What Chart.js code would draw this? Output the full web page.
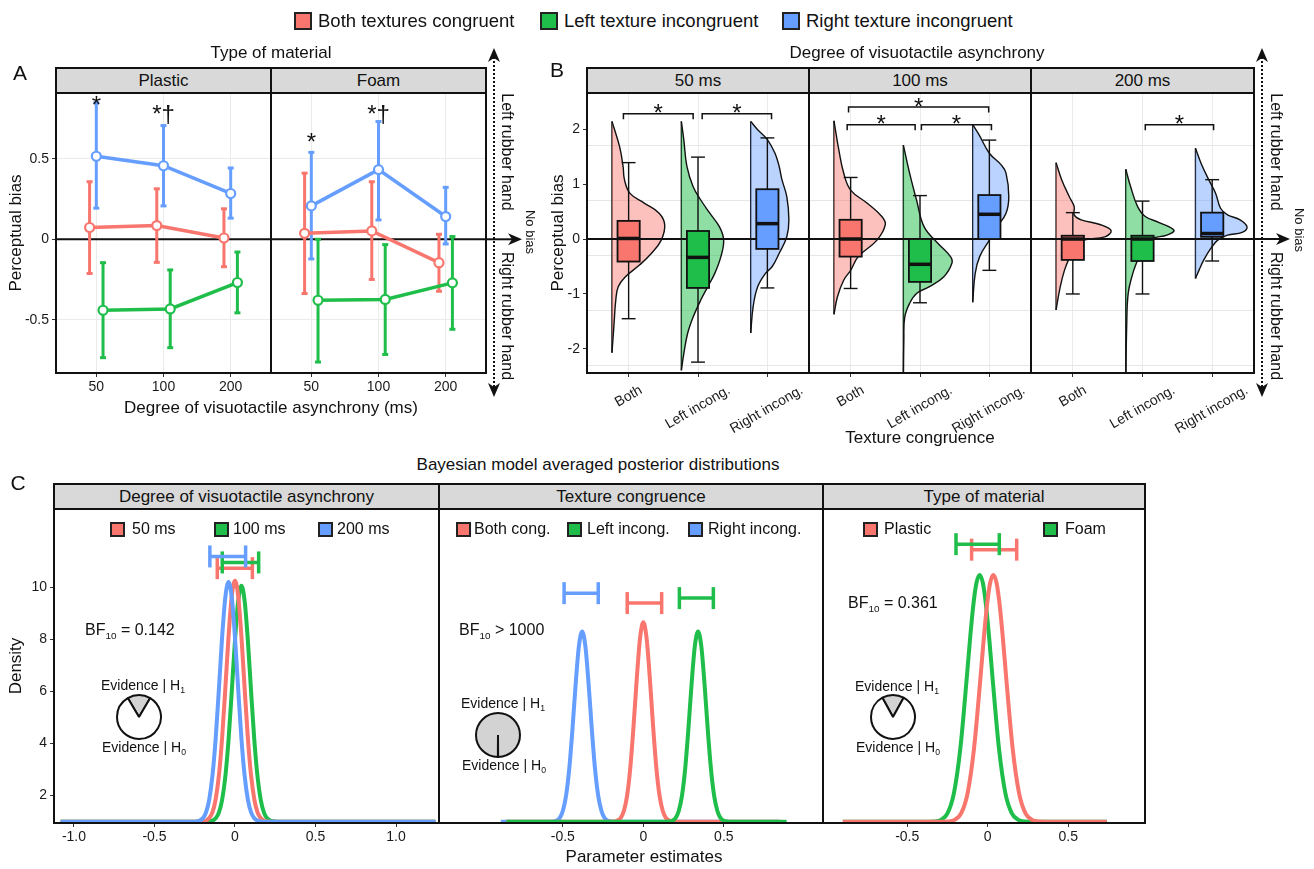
<!DOCTYPE html>
<html>
<head>
<meta charset="utf-8">
<title>Perceptual bias</title>
<script src="https://cdn.jsdelivr.net/npm/chart.js@4.4.1/dist/chart.umd.min.js"></script>
<style>
  html, body { margin: 0; background: #fff; }
  #fig { position: relative; width: 1314px; height: 869px; overflow: hidden;
         font-family: "Liberation Sans", Arial, Helvetica, sans-serif; color: #111; }
  #fig canvas { position: absolute; }
  .txt { position: absolute; white-space: nowrap; line-height: 1.15; }
  .txt sub { font-size: 0.62em; vertical-align: -0.4em; line-height: 0; }
  .strip { position: absolute; box-sizing: border-box; background: #d9d9d9; border: 2px solid #111;
           font-size: 17px; display: flex; align-items: center; justify-content: center; }
  .key { position: absolute; box-sizing: border-box; border: 2px solid #222; }
</style>
</head>
<body>
<div id="fig"></div>
<script>
// ---------- categories and tick labels ----------
const asyncLabels = ['50', '100', '200'];
const congruenceLabels = ['Both', 'Left incong.', 'Right incong.'];
const bYTicks = [-2.3, -2, -1.3, -1, -0.3, 0, 0.7, 1, 1.7, 2];

// ---------- panel A: mean perceptual bias and 95% CI ----------
const plasticBothMean = [0.073, 0.085, 0.008];
const plasticBothLow = [-0.212, -0.143, -0.170];
const plasticBothHigh = [0.357, 0.313, 0.189];
const plasticLeftMean = [-0.440, -0.432, -0.268];
const plasticLeftLow = [-0.734, -0.672, -0.456];
const plasticLeftHigh = [-0.145, -0.190, -0.079];
const plasticRightMean = [0.515, 0.456, 0.284];
const plasticRightLow = [0.193, 0.207, 0.131];
const plasticRightHigh = [0.846, 0.705, 0.442];
const foamBothMean = [0.037, 0.052, -0.145];
const foamBothLow = [-0.336, -0.249, -0.322];
const foamBothHigh = [0.410, 0.357, 0.031];
const foamLeftMean = [-0.378, -0.373, -0.270];
const foamLeftLow = [-0.761, -0.714, -0.558];
const foamLeftHigh = [0.000, -0.033, 0.017];
const foamRightMean = [0.207, 0.432, 0.141];
const foamRightLow = [-0.122, 0.120, -0.029];
const foamRightHigh = [0.539, 0.730, 0.322];
// significance marks: [asynchrony position, bias, label]
const plasticMarks = [[1, 0.865, '*'], [2, 0.81, '*†']];
const foamMarks = [[1, 0.638, '*'], [2, 0.81, '*†']];

// ---------- panel B: box plot stats (Both, Left, Right) ----------
const hi50 = [1.39, 1.49, 1.84], q3_50 = [0.33, 0.146, 0.906], med50 = [0.01, -0.334, 0.28], q1_50 = [-0.41, -0.89, -0.18], lo50 = [-1.45, -2.24, -0.89];
const hi100 = [1.12, 0.79, 1.80], q3_100 = [0.35, 0.0, 0.80], med100 = [0.0, -0.46, 0.45], q1_100 = [-0.32, -0.78, 0.0], lo100 = [-0.90, -1.16, -0.57];
const hi200 = [0.48, 0.69, 1.08], q3_200 = [0.06, 0.06, 0.48], med200 = [0.0, 0.0, 0.10], q1_200 = [-0.38, -0.40, 0.04], lo200 = [-1.0, -1.0, -0.40];
// significance brackets: [from, to, height]
const brackets50 = [[0.925, 1.93, 2.28], [2.06, 3.06, 2.28]];
const brackets100 = [[0.97, 2.99, 2.40], [0.95, 1.93, 2.08], [2.02, 3.03, 2.08]];
const brackets200 = [[2.04, 3.02, 2.08]];
// half-violin outlines: bias levels and density widths
const v50BothY = [2.14, 1.68, 1.32, 1.08, 0.83, 0.65, 0.47, 0.26, -0.02, -0.26, -0.47, -0.69, -0.87, -1.11, -1.54, -2.07];
const v50BothW = [0, 0.11, 0.16, 0.18, 0.26, 0.47, 0.68, 0.76, 0.71, 0.57, 0.40, 0.19, 0.09, 0.055, 0.03, 0];
const v50LeftY = [2.14, 1.81, 1.32, 0.95, 0.71, 0.47, 0.22, -0.02, -0.32, -0.63, -0.87, -1.11, -1.42, -1.72, -2.09, -2.39];
const v50LeftW = [0, 0.035, 0.08, 0.17, 0.28, 0.41, 0.55, 0.61, 0.57, 0.48, 0.38, 0.28, 0.17, 0.09, 0.035, 0];
const v50RightY = [2.14, 1.99, 1.81, 1.56, 1.32, 1.08, 0.77, 0.35, 0.04, -0.26, -0.50, -0.63, -0.87, -1.23, -1.71];
const v50RightW = [0, 0.10, 0.24, 0.35, 0.41, 0.45, 0.52, 0.55, 0.52, 0.41, 0.31, 0.21, 0.10, 0.035, 0];
const v100BothY = [2.15, 1.62, 1.20, 0.89, 0.65, 0.41, 0.26, -0.02, -0.32, -0.57, -0.75, -1.05, -1.37];
const v100BothW = [0, 0.07, 0.14, 0.24, 0.48, 0.69, 0.74, 0.62, 0.35, 0.24, 0.14, 0.05, 0];
const v100LeftY = [1.71, 1.20, 0.71, 0.22, -0.08, -0.32, -0.44, -0.69, -0.87, -0.99, -1.17, -1.42, -1.84, -2.60];
const v100LeftW = [0, 0.09, 0.19, 0.30, 0.50, 0.68, 0.70, 0.58, 0.37, 0.19, 0.09, 0.02, 0.007, 0];
const v100RightY = [2.08, 1.90, 1.56, 1.35, 1.20, 0.77, 0.47, 0.22, -0.02, -0.32, -0.63, -1.15];
const v100RightW = [0, 0.09, 0.24, 0.41, 0.48, 0.52, 0.48, 0.35, 0.24, 0.10, 0.035, 0];
const v200BothY = [1.39, 1.08, 0.77, 0.59, 0.44, 0.35, 0.26, 0.15, 0.04, -0.01, -0.08, -0.26, -0.57, -0.93, -1.29];
const v200BothW = [0, 0.08, 0.19, 0.26, 0.26, 0.36, 0.64, 0.79, 0.70, 0.43, 0.29, 0.22, 0.12, 0.05, 0];
const v200LeftY = [1.27, 0.95, 0.59, 0.41, 0.30, 0.16, 0.07, 0.01, -0.14, -0.38, -0.63, -0.99, -1.54, -2.60];
const v200LeftW = [0, 0.07, 0.17, 0.28, 0.48, 0.69, 0.59, 0.38, 0.24, 0.17, 0.10, 0.035, 0.014, 0];
const v200RightY = [1.65, 1.38, 1.08, 0.83, 0.56, 0.44, 0.35, 0.22, 0.12, 0.07, -0.02, -0.17, -0.38, -0.57, -0.72];
const v200RightW = [0, 0.08, 0.19, 0.29, 0.36, 0.46, 0.64, 0.74, 0.67, 0.46, 0.32, 0.22, 0.12, 0.05, 0];

// ---------- panel C: posterior densities ----------
const asyncX = [-1.083, -0.3, -0.25, -0.2, -0.18, -0.16, -0.14, -0.12, -0.1, -0.08, -0.06, -0.04, -0.02, 0, 0.02, 0.04, 0.06, 0.08, 0.1, 0.12, 0.14, 0.16, 0.18, 0.2, 0.25, 0.3, 1.245];
const async50Density = [1, 1, 1, 1.01, 1.04, 1.14, 1.36, 1.86, 2.77, 4.21, 6.11, 8.1, 9.66, 10.25, 9.66, 8.1, 6.11, 4.21, 2.77, 1.86, 1.36, 1.14, 1.04, 1.01, 1, 1, 1];
const async100Density = [1, 1, 1, 1, 1, 1.01, 1.04, 1.13, 1.35, 1.84, 2.73, 4.14, 6.0, 7.95, 9.47, 10.05, 9.47, 7.95, 6.0, 4.14, 2.73, 1.84, 1.35, 1.13, 1.01, 1, 1];
const async200Density = [1, 1, 1, 1.13, 1.36, 1.85, 2.76, 4.19, 6.08, 8.07, 9.61, 10.2, 9.61, 8.07, 6.08, 4.19, 2.76, 1.85, 1.36, 1.13, 1.04, 1.01, 1, 1, 1, 1, 1];
const asyncCiLow = [-0.110, -0.079, -0.156], asyncCiHigh = [0.108, 0.147, 0.066], asyncCiY = [10.73, 10.95, 11.18];

const congRightX = [-0.885, -0.6, -0.56, -0.54, -0.52, -0.5, -0.48, -0.46, -0.44, -0.42, -0.40, -0.38, -0.36, -0.34, -0.32, -0.30, -0.28, -0.26, -0.24, -0.22, -0.2, -0.16, 0.84];
const congRightDensity = [1, 1, 1.01, 1.04, 1.14, 1.41, 1.99, 3.03, 4.56, 6.30, 7.74, 8.3, 7.74, 6.30, 4.56, 3.03, 1.99, 1.41, 1.14, 1.04, 1.01, 1, 1];
const congBothX = [-0.85, -0.3, -0.18, -0.16, -0.14, -0.12, -0.1, -0.08, -0.06, -0.04, -0.02, 0, 0.02, 0.04, 0.06, 0.08, 0.1, 0.12, 0.14, 0.16, 0.18, 0.3, 0.85];
const congBothDensity = [1, 1, 1.01, 1.05, 1.15, 1.43, 2.03, 3.13, 4.73, 6.55, 8.06, 8.65, 8.06, 6.55, 4.73, 3.13, 2.03, 1.43, 1.15, 1.05, 1.01, 1, 1];
const congLeftX = [-0.85, 0.1, 0.16, 0.18, 0.2, 0.22, 0.24, 0.26, 0.28, 0.30, 0.32, 0.34, 0.36, 0.38, 0.40, 0.42, 0.44, 0.46, 0.48, 0.50, 0.52, 0.56, 0.89];
const congLeftDensity = [1, 1, 1.01, 1.04, 1.14, 1.41, 1.99, 3.03, 4.56, 6.30, 7.74, 8.3, 7.74, 6.30, 4.56, 3.03, 1.99, 1.41, 1.14, 1.04, 1.01, 1, 1];
const congCiLow = [-0.100, 0.224, -0.492], congCiHigh = [0.114, 0.435, -0.280], congCiY = [9.39, 9.58, 9.77];

const foamX = [-0.9, -0.4, -0.33, -0.29, -0.25, -0.21, -0.17, -0.13, -0.11, -0.09, -0.07, -0.05, -0.03, -0.01, 0.01, 0.03, 0.07, 0.11, 0.15, 0.19, 0.23, 0.3, 0.74];
const foamDensity = [1, 1, 1.01, 1.07, 1.32, 2.09, 3.81, 6.52, 7.99, 9.28, 10.16, 10.47, 10.16, 9.28, 7.99, 6.52, 3.81, 2.09, 1.32, 1.07, 1.01, 1, 1];
const plasticX = [-0.9, -0.3, -0.245, -0.205, -0.165, -0.125, -0.085, -0.045, -0.025, -0.005, 0.015, 0.035, 0.055, 0.075, 0.095, 0.115, 0.155, 0.195, 0.235, 0.275, 0.315, 0.4, 0.74];
const plasticDensity = [1, 1, 1.01, 1.07, 1.32, 2.09, 3.81, 6.52, 7.99, 9.28, 10.16, 10.47, 10.16, 9.28, 7.99, 6.52, 3.81, 2.09, 1.32, 1.07, 1.01, 1, 1];
const matCiLow = [-0.100, -0.197], matCiHigh = [0.180, 0.072], matCiY = [11.44, 11.65];

const bfLabels = ['= 0.142', '> 1000', '= 0.361'];
const evidenceShare = [0.17, 0.999, 0.16];

// ---------- styles ----------
const RED = '#F8766D', GREEN = '#1FBE4A', BLUE = '#659EFF';
const FILLS = ['rgba(248,118,109,0.45)', 'rgba(31,190,74,0.5)', 'rgba(101,158,255,0.45)'];
const COLORS = [RED, GREEN, BLUE];
const VIOLIN_SHIFT = -0.24, BOX_HALF = 0.16, CAP_HALF = 0.1, BRACKET_TICK = 0.1;
const B_LABEL_SHIFT = [0.18, 0.45, 0.50];   // centres rotated labels on their ticks
const SIDE = 12;
const FONT = '"Liberation Sans", Arial, Helvetica, sans-serif';
Chart.defaults.font.family = FONT;
Chart.defaults.color = '#1a1a1a';

const fig = document.getElementById('fig');

function addCanvas(x, y, w, h) {
  const c = document.createElement('canvas');
  c.width = w; c.height = h;
  c.style.left = x + 'px'; c.style.top = y + 'px';
  c.style.width = w + 'px'; c.style.height = h + 'px';
  fig.appendChild(c);
  return c;
}

function addText(html, x, y, size, align, rot) {
  const d = document.createElement('div');
  d.className = 'txt';
  d.innerHTML = html;
  d.style.left = x + 'px';
  d.style.top = y + 'px';
  d.style.fontSize = size + 'px';
  const tx = align === 'left' ? '0%' : align === 'right' ? '-100%' : '-50%';
  d.style.transform = 'translate(' + tx + ',-50%)' + (rot ? ' rotate(' + rot + 'deg)' : '');
  fig.appendChild(d);
}

function addStrip(label, l, r, t, b) {
  const d = document.createElement('div');
  d.className = 'strip';
  d.textContent = label;
  d.style.left = (l - 1) + 'px'; d.style.top = (t - 1) + 'px';
  d.style.width = (r - l + 2) + 'px'; d.style.height = (b - t + 2) + 'px';
  fig.appendChild(d);
}

function addKey(x, y, size, color) {
  const d = document.createElement('div');
  d.className = 'key';
  d.style.left = x + 'px'; d.style.top = y + 'px';
  d.style.width = size + 'px'; d.style.height = size + 'px';
  d.style.background = color;
  fig.appendChild(d);
}

function line(ctx, x1, y1, x2, y2) {
  ctx.beginPath(); ctx.moveTo(x1, y1); ctx.lineTo(x2, y2); ctx.stroke();
}

function arrowHead(ctx, x, y, dir) {
  // notched arrow head, tip at (x, y)
  const pts = {up: [[0, 0], [-6, 14], [0, 10], [6, 14]], down: [[0, 0], [-6, -14], [0, -10], [6, -14]],
               right: [[0, 0], [-14, -6], [-10, 0], [-14, 6]]}[dir];
  ctx.beginPath();
  pts.forEach((p, i) => i ? ctx.lineTo(x + p[0], y + p[1]) : ctx.moveTo(x + p[0], y + p[1]));
  ctx.closePath(); ctx.fill();
}

const framePlugin = {
  id: 'frame',
  afterDraw(chart) {
    const {ctx, chartArea: a} = chart;
    ctx.save();
    ctx.strokeStyle = '#111'; ctx.lineWidth = 2;
    ctx.strokeRect(a.left, a.top, a.right - a.left, a.bottom - a.top);
    ctx.restore();
  }
};

// dotted left/right arrow and the zero-line arrow beside a row of facets
function makeSideArrow() {
  return {
    id: 'sideArrow',
    afterDraw(chart) {
      const {ctx, chartArea: a} = chart;
      const y0 = chart.scales.y.getPixelForValue(0);
      const xd = a.right + 8;
      ctx.save();
      ctx.strokeStyle = '#111'; ctx.fillStyle = '#111'; ctx.lineWidth = 2;
      line(ctx, a.right, y0, a.right + 26, y0);
      arrowHead(ctx, a.right + 36, y0, 'right');
      ctx.setLineDash([2, 2]);
      line(ctx, xd, a.top - 36, xd, a.bottom + 14);
      ctx.setLineDash([]);
      arrowHead(ctx, xd, a.top - 45, 'up');
      arrowHead(ctx, xd, a.bottom + 24, 'down');
      ctx.restore();
    }
  };
}

function facet(rect, o) {
  const padTop = o.padTop || 14, leftW = o.leftW || 0;
  const padL = SIDE, padR = Math.max(o.padRight || 0, SIDE);
  const cv = addCanvas(rect.l - leftW - padL, rect.t - padTop,
    padL + leftW + rect.r - rect.l + padR, padTop + rect.b - rect.t + o.bottomH);
  const split = !!o.labelShift;
  const scales = {
    x: {
      type: 'linear', bounds: 'data', min: o.xMin, max: o.xMax, weight: 0,
      afterBuildTicks: s => { s.ticks = o.xTicks.map(v => ({value: v})); },
      afterFit: s => { s.height = split ? 4 : o.bottomH; },
      ticks: {display: !split, autoSkip: false, maxRotation: 0, padding: 2, color: '#1a1a1a',
              font: {size: 14}, callback: o.xFormat},
      grid: {drawOnChartArea: !!o.xGrid, color: '#ebebeb', tickColor: '#333', tickLength: 4, lineWidth: 1},
      border: {display: false}
    },
    y: {
      type: 'linear', bounds: 'data', min: o.yMin, max: o.yMax, display: o.yDisplay !== false,
      afterBuildTicks: s => { s.ticks = o.yTicks.map(v => ({value: v})); },
      afterFit: s => { s.width = leftW; },
      ticks: {display: leftW > 0, padding: 3, color: '#1a1a1a', font: {size: 14}, callback: o.yFormat},
      grid: {drawOnChartArea: !!o.yGrid, color: o.yGridColor || '#ebebeb',
             tickColor: o.yTickColor || '#333', tickLength: 4, drawTicks: leftW > 0, lineWidth: 1},
      border: {display: false}
    }
  };
  if (split) {
    // separate label axis so the rotated labels can sit centred under their ticks
    scales.xLabels = {
      type: 'linear', position: 'bottom', axis: 'x', bounds: 'data', min: o.xMin, max: o.xMax, weight: 1,
      afterBuildTicks: s => { s.ticks = o.xTicks.map((v, i) => ({value: v + o.labelShift[i]})); },
      afterFit: s => { s.height = o.bottomH - 4; },
      ticks: {autoSkip: false, minRotation: o.rotation, maxRotation: o.rotation, padding: 5,
              color: '#1a1a1a', font: {size: 14}, callback: (v, i) => o.xFormat(i + 1)},
      grid: {display: false, drawTicks: false},
      border: {display: false}
    };
  }
  return new Chart(cv, {
    type: 'line',
    data: {datasets: o.datasets},
    options: {
      responsive: false, animation: false, devicePixelRatio: 1, events: [],
      indexAxis: o.indexAxis || 'x',
      layout: {padding: {top: padTop, right: padR, left: padL, bottom: 0}},
      plugins: {legend: {display: false}, tooltip: {enabled: false}},
      scales: scales
    },
    plugins: [framePlugin].concat(o.plugins || [])
  });
}

// ---------- panel A ----------
function makePanelAPlugin(series, marks) {
  return {
    id: 'panelA',
    beforeDatasetsDraw(chart) {
      const {ctx, chartArea: a, scales: {x, y}} = chart;
      ctx.save();
      ctx.strokeStyle = '#111'; ctx.lineWidth = 2;
      const y0 = y.getPixelForValue(0);
      line(ctx, a.left, y0, a.right, y0);
      ctx.lineWidth = 3;
      series.forEach(s => {
        ctx.strokeStyle = s.color;
        s.low.forEach((lo, i) => {
          const px = x.getPixelForValue(i + 1 + s.dodge);
          const p1 = y.getPixelForValue(lo), p2 = y.getPixelForValue(s.high[i]);
          line(ctx, px, p1, px, p2);
          line(ctx, px - 3, p1, px + 3, p1);
          line(ctx, px - 3, p2, px + 3, p2);
        });
      });
      ctx.restore();
    },
    afterDatasetsDraw(chart) {
      const {ctx, scales: {x, y}} = chart;
      ctx.save();
      ctx.fillStyle = '#111'; ctx.font = '24px ' + FONT;
      ctx.textAlign = 'center'; ctx.textBaseline = 'alphabetic';
      marks.forEach(m => ctx.fillText(m[2], x.getPixelForValue(m[0]), y.getPixelForValue(m[1]) + 13.5));
      ctx.restore();
    }
  };
}

function panelAFacet(rect, series, marks, o) {
  return facet(rect, {
    leftW: o.leftW, padTop: o.padTop, padRight: o.padRight, bottomH: 30,
    xMin: 0.4, xMax: 3.6, xTicks: [1, 2, 3], xFormat: v => asyncLabels[v - 1], xGrid: true,
    yMin: -0.829, yMax: 0.907, yTicks: [-0.5, 0, 0.5], yFormat: v => (v === 0 ? '0' : String(v)), yGrid: true,
    datasets: series.map(s => ({
      data: s.mean.map((v, i) => ({x: i + 1 + s.dodge, y: v})),
      borderColor: s.color, borderWidth: 3.5, pointRadius: 4.5, pointBorderWidth: 2.2,
      pointBackgroundColor: '#fff', pointBorderColor: s.color, tension: 0, fill: false
    })),
    plugins: [makePanelAPlugin(series, marks)].concat(o.arrow ? [makeSideArrow()] : [])
  });
}

const plasticSeries = [
  {mean: plasticBothMean, low: plasticBothLow, high: plasticBothHigh, color: RED, dodge: -0.1},
  {mean: plasticLeftMean, low: plasticLeftLow, high: plasticLeftHigh, color: GREEN, dodge: 0.1},
  {mean: plasticRightMean, low: plasticRightLow, high: plasticRightHigh, color: BLUE, dodge: 0}
];
const foamSeries = [
  {mean: foamBothMean, low: foamBothLow, high: foamBothHigh, color: RED, dodge: -0.1},
  {mean: foamLeftMean, low: foamLeftLow, high: foamLeftHigh, color: GREEN, dodge: 0.1},
  {mean: foamRightMean, low: foamRightLow, high: foamRightHigh, color: BLUE, dodge: 0}
];
panelAFacet({l: 56, t: 93, r: 271, b: 373}, plasticSeries, plasticMarks, {leftW: 50});
panelAFacet({l: 271, t: 93, r: 486, b: 373}, foamSeries, foamMarks, {leftW: 0, padTop: 52, padRight: 45, arrow: true});

// ---------- panel B ----------
function violinSets(ys, ws, cat) {
  const flat = cat + VIOLIN_SHIFT;
  return [
    {data: ys.map((v, i) => ({x: flat + ws[i], y: v})), indexAxis: 'y', borderColor: '#111', borderWidth: 1.4,
     backgroundColor: FILLS[cat - 1], fill: {value: flat}, pointRadius: 0, tension: 0.4},
    {data: [{x: flat, y: ys[0]}, {x: flat, y: ys[ys.length - 1]}], indexAxis: 'y', borderColor: '#111',
     borderWidth: 1.4, pointRadius: 0, fill: false}
  ];
}

function makePanelBPlugin(stats, brackets) {
  return {
    id: 'panelB',
    afterDatasetsDraw(chart) {
      const {ctx, chartArea: a, scales: {x, y}} = chart;
      const px = v => x.getPixelForValue(v), py = v => y.getPixelForValue(v);
      ctx.save();
      ctx.strokeStyle = '#111'; ctx.lineWidth = 2;
      line(ctx, a.left, py(0), a.right, py(0));
      for (let i = 0; i < 3; i++) {
        const c = i + 1;
        ctx.lineWidth = 1.4;
        line(ctx, px(c), py(stats.hi[i]), px(c), py(stats.lo[i]));
        line(ctx, px(c - CAP_HALF), py(stats.hi[i]), px(c + CAP_HALF), py(stats.hi[i]));
        line(ctx, px(c - CAP_HALF), py(stats.lo[i]), px(c + CAP_HALF), py(stats.lo[i]));
        ctx.fillStyle = COLORS[i]; ctx.lineWidth = 1.8;
        const bx = px(c - BOX_HALF), bw = px(c + BOX_HALF) - bx, by = py(stats.q3[i]), bh = py(stats.q1[i]) - by;
        ctx.fillRect(bx, by, bw, bh); ctx.strokeRect(bx, by, bw, bh);
        ctx.lineWidth = 3.5;
        line(ctx, bx, py(stats.med[i]), bx + bw, py(stats.med[i]));
      }
      ctx.lineWidth = 1.5; ctx.fillStyle = '#111';
      ctx.font = '24px ' + FONT; ctx.textAlign = 'center'; ctx.textBaseline = 'alphabetic';
      brackets.forEach(b => {
        ctx.beginPath();
        ctx.moveTo(px(b[0]), py(b[2] - BRACKET_TICK)); ctx.lineTo(px(b[0]), py(b[2]));
        ctx.lineTo(px(b[1]), py(b[2])); ctx.lineTo(px(b[1]), py(b[2] - BRACKET_TICK));
        ctx.stroke();
        ctx.fillText('*', px((b[0] + b[1]) / 2), py(b[2]) + 7.5);
      });
      ctx.restore();
    }
  };
}

function panelBFacet(rect, violins, stats, brackets, o) {
  return facet(rect, {
    leftW: o.leftW, padTop: o.padTop, padRight: o.padRight, bottomH: 70, indexAxis: 'y',
    xMin: 0.4, xMax: 3.6, xTicks: [1, 2, 3], xFormat: v => congruenceLabels[v - 1], xGrid: true,
    rotation: 30, labelShift: B_LABEL_SHIFT,
    yMin: -2.438, yMax: 2.657, yTicks: bYTicks, yGrid: true,
    yFormat: v => (Number.isInteger(v) ? String(v) : ''),
    yGridColor: c => (c.tick && !Number.isInteger(c.tick.value) ? '#e6e6e6' : 'rgba(0,0,0,0)'),
    yTickColor: c => (c.tick && Number.isInteger(c.tick.value) ? '#333' : 'rgba(0,0,0,0)'),
    datasets: [].concat(violinSets(violins[0], violins[1], 1), violinSets(violins[2], violins[3], 2),
                        violinSets(violins[4], violins[5], 3)),
    plugins: [makePanelBPlugin(stats, brackets)].concat(o.arrow ? [makeSideArrow()] : [])
  });
}

panelBFacet({l: 587, t: 93, r: 809, b: 373},
  [v50BothY, v50BothW, v50LeftY, v50LeftW, v50RightY, v50RightW],
  {hi: hi50, q3: q3_50, med: med50, q1: q1_50, lo: lo50}, brackets50, {leftW: 30});
panelBFacet({l: 809, t: 93, r: 1031, b: 373},
  [v100BothY, v100BothW, v100LeftY, v100LeftW, v100RightY, v100RightW],
  {hi: hi100, q3: q3_100, med: med100, q1: q1_100, lo: lo100}, brackets100, {leftW: 0});
panelBFacet({l: 1031, t: 93, r: 1254, b: 373},
  [v200BothY, v200BothW, v200LeftY, v200LeftW, v200RightY, v200RightW],
  {hi: hi200, q3: q3_200, med: med200, q1: q1_200, lo: lo200}, brackets200,
  {leftW: 0, padTop: 52, padRight: 45, arrow: true});

// ---------- panel C ----------
function makeCiPlugin(low, high, ys, colors) {
  return {
    id: 'ci',
    afterDatasetsDraw(chart) {
      const {ctx, scales: {x, y}} = chart;
      ctx.save(); ctx.lineWidth = 3.5;
      low.forEach((lo, i) => {
        ctx.strokeStyle = colors[i];
        const x1 = x.getPixelForValue(lo), x2 = x.getPixelForValue(high[i]), yy = y.getPixelForValue(ys[i]);
        line(ctx, x1, yy, x2, yy);
        line(ctx, x1, yy - 11, x1, yy + 11);
        line(ctx, x2, yy - 11, x2, yy + 11);
      });
      ctx.restore();
    }
  };
}

function panelCFacet(rect, curves, ci, o) {
  return facet(rect, {
    leftW: o.leftW, bottomH: 28,
    xMin: o.xMin, xMax: o.xMax, xTicks: o.xTicks, xFormat: v => (v === 0 ? '0' : v.toFixed(1)),
    yMin: 0.95, yMax: 13.0, yTicks: [2, 4, 6, 8, 10], yFormat: v => String(v), yDisplay: o.leftW > 0,
    datasets: curves.map(c => ({
      data: c.x.map((v, i) => ({x: v, y: c.y[i]})), borderColor: c.color, borderWidth: 4,
      pointRadius: 0, cubicInterpolationMode: 'monotone', fill: false
    })),
    plugins: [makeCiPlugin(ci[0], ci[1], ci[2], ci[3])]
  });
}

panelCFacet({l: 54, t: 509, r: 439, b: 823},
  [{x: asyncX, y: async200Density, color: BLUE}, {x: asyncX, y: async50Density, color: RED},
   {x: asyncX, y: async100Density, color: GREEN}],
  [asyncCiLow, asyncCiHigh, asyncCiY, [RED, GREEN, BLUE]],
  {leftW: 44, xMin: -1.124, xMax: 1.267, xTicks: [-1, -0.5, 0, 0.5, 1]});
panelCFacet({l: 439, t: 509, r: 823, b: 823},
  [{x: congLeftX, y: congLeftDensity, color: GREEN}, {x: congBothX, y: congBothDensity, color: RED},
   {x: congRightX, y: congRightDensity, color: BLUE}],
  [congCiLow, congCiHigh, congCiY, [RED, GREEN, BLUE]],
  {leftW: 0, xMin: -1.269, xMax: 1.116, xTicks: [-0.5, 0, 0.5]});
panelCFacet({l: 823, t: 509, r: 1145, b: 823},
  [{x: plasticX, y: plasticDensity, color: RED}, {x: foamX, y: foamDensity, color: GREEN}],
  [matCiLow, matCiHigh, matCiY, [RED, GREEN]],
  {leftW: 0, xMin: -1.023, xMax: 0.977, xTicks: [-0.5, 0, 0.5]});

// evidence wheels
function evidencePie(cx, cy, share) {
  const size = 48;
  const cv = addCanvas(cx - size / 2, cy - size / 2, size, size);
  new Chart(cv, {
    type: 'pie',
    data: {datasets: [{data: [share, 1 - share], backgroundColor: ['#d3d3d3', '#ffffff'],
                       borderColor: '#111', borderWidth: 2}]},
    options: {responsive: false, animation: false, devicePixelRatio: 1, events: [],
              rotation: -share * 180, layout: {padding: 1},
              plugins: {legend: {display: false}, tooltip: {enabled: false}}}
  });
}
evidencePie(139, 717, evidenceShare[0]);
evidencePie(498, 735, evidenceShare[1]);
evidencePie(893, 717, evidenceShare[2]);

// ---------- text, strips, legends ----------
addKey(294, 12, 18, RED); addText('Both textures congruent', 318, 21, 18.5, 'left');
addKey(540, 12, 18, GREEN); addText('Left texture incongruent', 564, 21, 18.5, 'left');
addKey(782, 12, 18, BLUE); addText('Right texture incongruent', 806, 21, 18.5, 'left');

addText('A', 20, 73, 21); addText('B', 557, 70, 21); addText('C', 18, 483, 21);
addText('Type of material', 271, 53, 17);
addText('Degree of visuotactile asynchrony', 917, 53, 17);
addText('Bayesian model averaged posterior distributions', 598, 465, 17);

addStrip('Plastic', 56, 271, 68, 93); addStrip('Foam', 271, 486, 68, 93);
addStrip('50 ms', 587, 809, 68, 93); addStrip('100 ms', 809, 1031, 68, 93); addStrip('200 ms', 1031, 1254, 68, 93);
addStrip('Degree of visuotactile asynchrony', 54, 439, 484, 509);
addStrip('Texture congruence', 439, 823, 484, 509);
addStrip('Type of material', 823, 1145, 484, 509);

addText('Perceptual bias', 16, 233, 17, 'center', -90);
addText('Perceptual bias', 558, 233, 17, 'center', -90);
addText('Degree of visuotactile asynchrony (ms)', 271, 408, 17);
addText('Texture congruence', 920, 438, 17);
addText('Density', 16, 666, 17, 'center', -90);
addText('Parameter estimates', 644, 857, 17);

addText('Left rubber hand', 507, 152, 16, 'center', 90);
addText('Right rubber hand', 507, 316, 16, 'center', 90);
addText('No bias', 530, 232, 13, 'center', 90);
addText('Left rubber hand', 1276, 152, 16, 'center', 90);
addText('Right rubber hand', 1276, 316, 16, 'center', 90);
addText('No bias', 1299, 230, 13, 'center', 90);

// panel C legends
addKey(110, 522, 15, RED); addText('50 ms', 132, 529, 16, 'left');
addKey(214, 522, 15, GREEN); addText('100 ms', 233, 529, 16, 'left');
addKey(318, 522, 15, BLUE); addText('200 ms', 337, 529, 16, 'left');
addKey(456, 522, 15, RED); addText('Both cong.', 474, 529, 16, 'left');
addKey(567, 522, 15, GREEN); addText('Left incong.', 587, 529, 16, 'left');
addKey(688, 522, 15, BLUE); addText('Right incong.', 708, 529, 16, 'left');
addKey(863, 522, 15, RED); addText('Plastic', 884, 529, 16, 'left');
addKey(1043, 522, 15, GREEN); addText('Foam', 1065, 529, 16, 'left');

addText('BF<sub>10</sub> ' + bfLabels[0], 85, 630, 16, 'left');
addText('BF<sub>10</sub> ' + bfLabels[1], 459, 630, 16, 'left');
addText('BF<sub>10</sub> ' + bfLabels[2], 848, 603, 16, 'left');

addText('Evidence | H<sub>1</sub>', 143, 685, 14); addText('Evidence | H<sub>0</sub>', 144, 747, 14);
addText('Evidence | H<sub>1</sub>', 503, 703, 14); addText('Evidence | H<sub>0</sub>', 504, 765, 14);
addText('Evidence | H<sub>1</sub>', 897, 686, 14); addText('Evidence | H<sub>0</sub>', 898, 747, 14);
</script>
</body>
</html>
